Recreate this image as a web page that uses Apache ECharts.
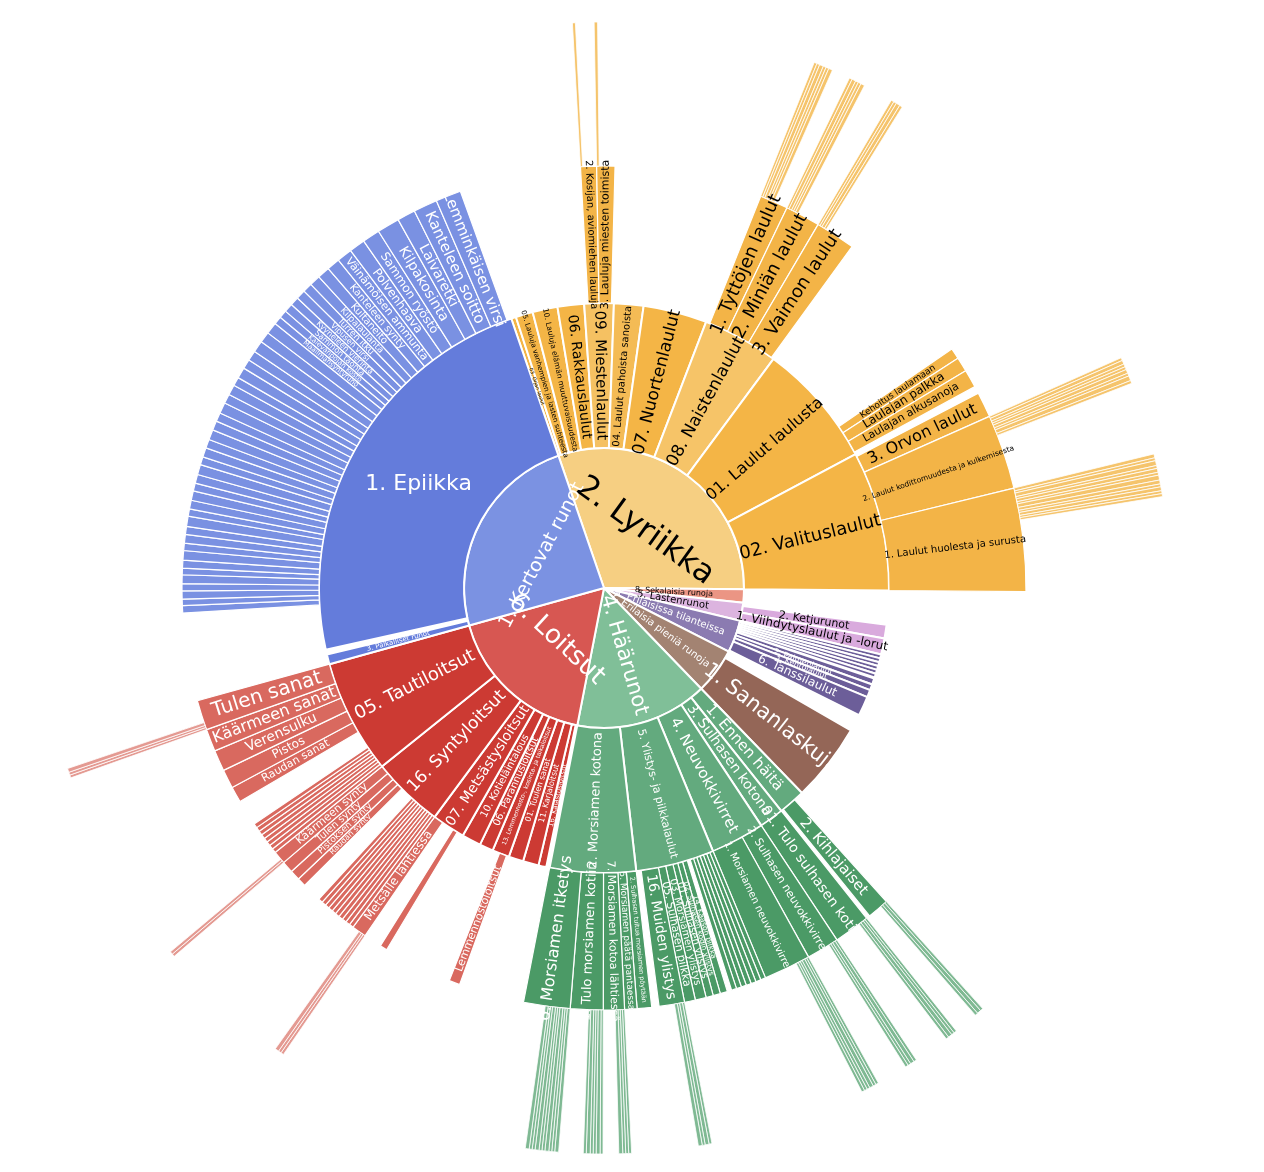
<!DOCTYPE html>
<html><head><meta charset="utf-8">
<script src="https://cdn.jsdelivr.net/npm/echarts@6/dist/echarts.min.js"></script>
<style>html,body{margin:0;padding:0;background:#fff}#c{width:1264px;height:1172px}</style>
</head><body><div id="c"></div>
<script>
// [name, value, children]; name null = empty gap; name "" = unlabeled sliver; plain number = outer sliver
const L4_huolesta = [0.4,0.3,0.5,0.3,0.4,0.3,0.5,0.4,0.3,0.4,0.3,0.3];
const L4_kodittomuus = [0.3,0.4,0.3,0.3,0.4,0.3,0.5,0.3];
const L4_tyttojen = [0.3,0.3,0.4,0.3,0.3,0.4];
const L4_minian = [0.3,0.4,0.3,0.3,0.4];
const L4_vaimon = [0.3,0.3,0.4,0.3];
const L4_miesten = [0.35];
const L4_kosijan = [0.3];
const L4_itketys = [0.4,0.3,0.3,0.4,0.3,0.3,0.4,0.3,0.3,0.4];
const L4_tuloMorsiamen = [0.3,0.4,0.3,0.3,0.4,0.3];
const L4_kotoa = [0.3,0.3,0.3,0.4];
const L4_muiden = [0.3,0.4,0.3,0.4];
const L4_morsNeuv = [0.3,0.3,0.4,0.3,0.3,0.3];
const L4_sulhNeuv = [0.3,0.4,0.3,0.3];
const L4_tuloSulh = [0.3,0.3,0.4,0.3];
const L4_kihla = [0.3,0.4,0.3];
const L4_tulen = [0.3,0.3,0.4];
const L4_kaarmeSynty = [0.3,0.3];
const L4_metsalle = [0.3,0.3,0.4];

const epiikkaSmall = [1.0,0.9,1.1,1.0,1.2,0.9,1.1,1.3,1.0,1.2,1.1,1.4,1.0,1.2,1.3,1.1,1.2,1.4,1.1,1.3,1.2,1.4,1.3,1.2,1.5,1.3,1.4,1.2,1.5,1.3,1.4,1.6,1.5,1.6];
const epiikkaNamed = [
 ["Maailmansyntyruno",1.1],["Kalevanpojan kosto",1.1],["Sammon taonta",1.2],["Kyyneleen vierintä",1.2],
 ["Vipusen virsi",1.3],["Turren itku",1.3],["Kilpalaulanta",1.5],["Kultaneito",1.7],["Kanteleen synty",1.8],
 ["Väinämöisen ammunta",2.1],["Polvenhaava",2.2],["Sammon ryöstö",2.4],["Kilpakosinta",3.1],
 ["Laivaretki",2.5],["Kanteleen soitto",3.3],["Lemminkäisen virsi",3.5]
];
const lyriikka = ["2. Lyriikka",109.5,[
 ["03. Orjan laulut",1],
 ["05. Lauluja vanhempien ja lasten suhteesta",3.5],
 ["10. Lauluja elämän muuttuvaisuudesta",5.1],
 ["06. Rakkauslaulut",5.4],
 ["09. Miestenlaulut",6,[[null,0.8],["2. Kosijan, aviomiehen lauluja",2.2,L4_kosijan],["3. Lauluja miesten toimista",2.5,L4_miesten]]],
 ["04. Laulut pahoista sanoista",6],
 ["07. Nuortenlaulut",13],
 ["08. Naistenlaulut",15.5,[[null,0.8],["1. Tyttöjen laulut",3.9,L4_tyttojen],["2. Miniän laulut",4.8,L4_minian],["3. Vaimon laulut",5.5,L4_vaimon]]],
 ["01. Laulut laulusta",25.5,[[null,19],["Kehoitus laulamaan",1.5],["Laulajan palkka",2],["Laulajan alkusanoja",2.5]]],
 ["02. Valituslaulut",28.5,[[null,0.5],["3. Orvon laulut",3.5],["2. Laulut kodittomuudesta ja kulkemisesta",10.3,L4_kodittomuus],["1. Laulut huolesta ja surusta",14.2,L4_huolesta]]]
]];
const sekalaisia = ["8. Sekalaisia runoja",5.5];
const lastenrunot = ["5. Lastenrunot",7.5,[[null,1.4],["2. Ketjurunot",2.8],["1. Viihdytyslaulut ja -lorut",3.3]]];
const tilanteissa = ["3. Erilaisissa tilanteissa",13.5,[["",0.8],["",0.8],["",0.8],["",0.8],["",0.8],["",0.8],[null,0.2],["",1.3],["2. Paimenlaulut",1.2],["3. Kehtolaulut",1.5],["6. Tanssilaulut",4]]];
const pienia = ["7. Erilaisia pieniä runoja",19,[[null,3],["1. Sananlaskuja",16]]];
const haarunot = ["4. Häärunot",55,[
 ["1. Ennen häitä",5.5,[[null,2],["2. Kihlajaiset",3,L4_kihla]]],
 ["3. Sulhasen kotona",5,[["01. Tulo sulhasen kotiin",5,L4_tuloSulh]]],
 ["4. Neuvokkivirret",11,[["2. Sulhasen neuvokkivirret",4.5,L4_sulhNeuv],["1. Morsiamen neuvokkivirret",6.5,L4_morsNeuv]]],
 ["5. Ylistys- ja pilkkalaulut",16,[["",0.7],["",0.7],["",0.7],["",0.7],["",0.7],["",0.7],["",0.7],[null,0.6],["14. Kaason pilkka",1],["02. Sulhasen kodin ylistys",1],["01. Sulhasen ylistys",1],["03. Morsiamen ylistys",1.5],["05. Sulhasen pilkka",1.5],["16. Muiden ylistys",3.5,L4_muiden]]],
 ["2. Morsiamen kotona",17.5,[["2. Sulhasen tultua morsiamen pöytään",2],["5. Morsiamen päätä pantaessa",1.7],["7. Morsiamen kotoa lähtiessä",2.9,L4_kotoa],["1. Tulo morsiamen kotiin",4.5,L4_tuloMorsiamen],["6. Morsiamen itketys",6.4,L4_itketys]]]
]];
const loitsut = ["6. Loitsut",63.5,[
 [null,0.7],
 ["16. Kalastusloitsut",1.6],
 ["11. Karjaloitsut",3.2],
 ["01. Tuulen sanat",3],
 ["13. Lemmennosto-, kosinta- ja taikaloitsut",3.5,[[null,0.5],["Lemmennostoloitsut",1.5]]],
 ["06. Parannusloitsut",2.8],
 ["10. Kotieläintalous",3.9],
 ["07. Metsästysloitsut",6.8,[[null,1.3],["Karhua vastaan",1],[null,2.5],["Metsälle lähtiessä",2,L4_metsalle]]],
 ["16. Syntyloitsut",14.7,[["",0.6],["",0.6],["",0.6],["",0.6],["",0.6],["",0.6],["",0.6],["",0.6],["",0.6],["",0.6],[null,2.7],["Raudan synty",1.2],["Pistoksen synty",1.4],["Tulen synty",1.6],["Käärmeen synty",1.8,L4_kaarmeSynty]]],
 ["05. Tautiloitsut",23.3,[["",0.6],["",0.6],["",0.6],["",0.6],["",0.6],["",0.6],["",0.6],["",0.6],[null,3.6],["Raudan sanat",2.2],["Pistos",2.6],["Verensulku",2.9],["Käärmeen sanat",3.1],["Tulen sanat",4.1,L4_tulen]]]
]];
const kertovat = ["1. Kertovat runot",86.5,[
 ["3. Palkalliset runot",2],
 [null,1],
 ["1. Epiikka",83.5,[[null,9.1]].concat(epiikkaSmall.map(v=>["",v])).concat(epiikkaNamed)]
]];
const topLevels = [lyriikka,sekalaisia,lastenrunot,tilanteissa,pienia,haarunot,loitsut,kertovat];

// styles
const palette = {
 "2. Lyriikka":["#f6cf82","#f4b546","#f3b447","#f5c46c","#000"],
 "8. Sekalaisia runoja":["#eb9584","#eb9584","#eb9584","#eb9584","#000"],
 "5. Lastenrunot":["#dcb4df","#d9aadd","#d9aadd","#d9aadd","#000"],
 "3. Erilaisissa tilanteissa":["#8b7bb1","#6c5e99","#6c5e99","#6c5e99","#fff"],
 "7. Erilaisia pieniä runoja":["#a38372","#946657","#946657","#946657","#fff"],
 "4. Häärunot":["#80bf98","#63aa7e","#4b9a66","#7fb993","#fff"],
 "6. Loitsut":["#d75752","#cc3a33","#d9695f","#e49a92","#fff"],
 "1. Kertovat runot":["#7b92e2","#647cdb","#7a91e2","#a9b8ee","#fff"]
};
const lighter = {"08. Naistenlaulut":"#f6c468","09. Miestenlaulut":"#f5c162","04. Laulut pahoista sanoista":"#f4bb55"};
const fs = {
 "2. Lyriikka":32,"1. Kertovat runot":19,"6. Loitsut":26,"4. Häärunot":21,"7. Erilaisia pieniä runoja":10,"3. Erilaisissa tilanteissa":10,"5. Lastenrunot":10,"8. Sekalaisia runoja":8,
 "1. Epiikka":22,"02. Valituslaulut":18,"01. Laulut laulusta":16,"08. Naistenlaulut":17,"07. Nuortenlaulut":17,"04. Laulut pahoista sanoista":10,"09. Miestenlaulut":15,"06. Rakkauslaulut":14,
 "10. Lauluja elämän muuttuvaisuudesta":7.5,"05. Lauluja vanhempien ja lasten suhteesta":7,"03. Orjan laulut":5,"1. Sananlaskuja":21,"05. Tautiloitsut":18,"16. Syntyloitsut":17,"07. Metsästysloitsut":14,
 "10. Kotieläintalous":10,"06. Parannusloitsut":10,"13. Lemmennosto-, kosinta- ja taikaloitsut":6,"01. Tuulen sanat":8,"11. Karjaloitsut":8,"16. Kalastusloitsut":7,
 "1. Ennen häitä":15,"3. Sulhasen kotona":14,"4. Neuvokkivirret":15,"5. Ylistys- ja pilkkalaulut":11,"2. Morsiamen kotona":13,"2. Ketjurunot":11,"1. Viihdytyslaulut ja -lorut":12,
 "6. Tanssilaulut":12,"3. Kehtolaulut":8,"2. Paimenlaulut":8,"3. Palkalliset runot":7,
 "1. Laulut huolesta ja surusta":10,"2. Laulut kodittomuudesta ja kulkemisesta":7.5,"3. Orvon laulut":16,"Laulajan alkusanoja":11,"Laulajan palkka":12,"Kehoitus laulamaan":9,
 "1. Tyttöjen laulut":18,"2. Miniän laulut":18,"3. Vaimon laulut":18,"2. Kosijan, aviomiehen lauluja":10,"3. Lauluja miesten toimista":11,
 "Lemminkäisen virsi":15,"Kanteleen soitto":15,"Laivaretki":14,"Kilpakosinta":14,"Sammon ryöstö":12,"Polvenhaava":12,"Väinämöisen ammunta":11,"Kanteleen synty":10,"Kultaneito":10,
 "Kilpalaulanta":9,"Turren itku":9,"Vipusen virsi":8,"Kyyneleen vierintä":8,"Sammon taonta":8,"Kalevanpojan kosto":7,"Maailmansyntyruno":7,
 "Tulen sanat":20,"Käärmeen sanat":16,"Verensulku":14,"Pistos":12,"Raudan sanat":11,"Käärmeen synty":11,"Tulen synty":10,"Pistoksen synty":9,"Raudan synty":8,
 "Metsälle lähtiessä":12,"Karhua vastaan":9,"Lemmennostoloitsut":11,
 "2. Kihlajaiset":15,"01. Tulo sulhasen kotiin":14,"2. Sulhasen neuvokkivirret":11,"1. Morsiamen neuvokkivirret":10,"6. Morsiamen itketys":16,"1. Tulo morsiamen kotiin":13,
 "7. Morsiamen kotoa lähtiessä":11,"5. Morsiamen päätä pantaessa":9,"2. Sulhasen tultua morsiamen pöytään":6.5,"16. Muiden ylistys":14,"05. Sulhasen pilkka":11,
 "03. Morsiamen ylistys":10,"01. Sulhasen ylistys":10,"02. Sulhasen kodin ylistys":7.5,"14. Kaason pilkka":7.5
};
const tangential = {"2. Lyriikka":1,"1. Kertovat runot":1,"6. Loitsut":1};
const horizontal = {"1. Epiikka":1};

function build(t, depth, branch){
  const pal = palette[branch];
  if (typeof t === 'number') {
    return {name:'', value:t, itemStyle:{color:pal[3]}, label:{show:false}};
  }
  const name = t[0], value = t[1], kids = t[2];
  if (name === null) {
    return {name:'', value:value, itemStyle:{color:'rgba(0,0,0,0)', borderWidth:0}, label:{show:false}};
  }
  const node = {name:name, value:value,
    itemStyle:{color: (depth===1 && lighter[name]) || pal[Math.min(depth,3)]},
    label:{show: name !== '', fontSize: fs[name] || 8, color: pal[4]}};
  if (tangential[name]) node.label.rotate = 'tangential';
  if (horizontal[name]) node.label.rotate = 0;
  if (kids) node.children = kids.map(k => build(k, depth+1, branch));
  return node;
}
const seriesData = topLevels.map(t => build(t, 0, t[0]));

const chart = echarts.init(document.getElementById('c'), null, {renderer:'canvas'});
chart.setOption({
  animation:false,
  series:[{
    type:'sunburst', center:[604,588], sort:null, startAngle:109, nodeClick:false,
    emphasis:{disabled:true},
    data:seriesData,
    label:{fontFamily:'DejaVu Sans', rotate:'radial', minAngle:1, align:'center'},
    itemStyle:{borderColor:'#fff', borderWidth:1},
    levels:[
      {},
      {r0:0, r:140, itemStyle:{borderWidth:2}},
      {r0:140, r:285, itemStyle:{borderWidth:2}},
      {r0:285, r:422, itemStyle:{borderWidth:1.2}},
      {r0:422, r:566, itemStyle:{borderWidth:0.8}, label:{show:false}}
    ]
  }]
});
</script></body></html>
